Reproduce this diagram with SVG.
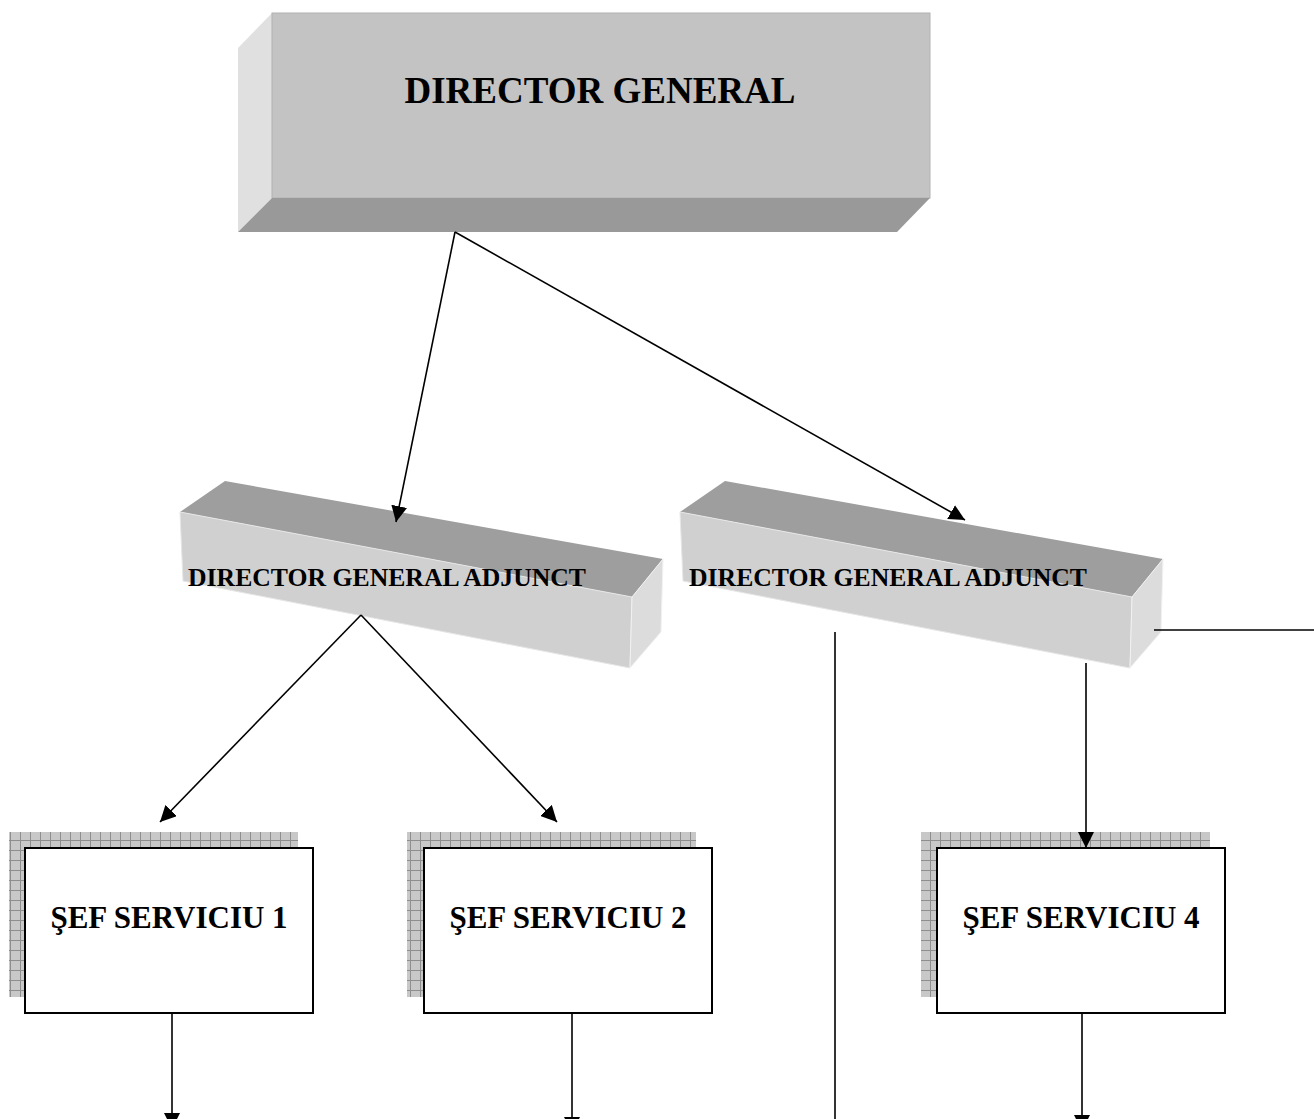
<svg xmlns="http://www.w3.org/2000/svg" width="1314" height="1119" viewBox="0 0 1314 1119">
<style>
.t{font-family:"Liberation Serif","Times New Roman",serif;font-weight:bold;fill:#000;text-anchor:middle}
.ts{font-family:"Liberation Serif","Times New Roman",serif;font-weight:bold;fill:#000;text-anchor:start}
.ln{stroke:#000;stroke-width:1.6;fill:none}
.box{fill:#fff;stroke:#000;stroke-width:2}
.sh{fill:url(#grid)}
.top{fill:#9e9e9e}
.front{fill:#d0d0d0}
.side{fill:#dcdcdc}
</style>
<defs>
<pattern id="grid" width="10" height="10" patternUnits="userSpaceOnUse">
<rect width="10" height="10" fill="#c8c8c8"/>
<path d="M0 0.5H10M0.5 0V10" stroke="#8e8e8e" stroke-width="1"/>
</pattern>
<marker id="ah" markerUnits="userSpaceOnUse" markerWidth="16" markerHeight="16" viewBox="0 0 16 16" refX="16" refY="8" orient="auto">
<path d="M0 0L16 8L0 16Z" fill="#000"/>
</marker>
</defs>

<g id="director-general">
<polygon points="238,48 272,13 272,198 238,232" fill="#e0e0e0"/>
<rect x="272" y="13" width="658" height="185" fill="#c3c3c3" stroke="#b2b2b2" stroke-width="1"/>
<polygon points="272,198 930,198 897,232 238,232" fill="#999999"/>
<text class="t" x="600" y="103" font-size="37">DIRECTOR GENERAL</text>
</g>

<g id="dga-1">
<polygon class="top" points="180,512 225,481 663,559 632,597"/>
<polygon class="front" points="180,512 632,597 630,668 183,581" stroke="#e6e6e6" stroke-width="1"/>
<polygon class="side" points="632,597 663,559 661,632 630,668" stroke="#f2f2f2" stroke-width="1"/>
<text class="ts" x="188" y="586" font-size="26" textLength="398" lengthAdjust="spacingAndGlyphs">DIRECTOR GENERAL ADJUNCT</text>
</g>

<g id="dga-2">
<polygon class="top" points="680,512 725,481 1163,559 1132,597"/>
<polygon class="front" points="680,512 1132,597 1130,668 683,581" stroke="#e6e6e6" stroke-width="1"/>
<polygon class="side" points="1132,597 1163,559 1161,632 1130,668" stroke="#f2f2f2" stroke-width="1"/>
<text class="ts" x="689" y="586" font-size="26" textLength="398" lengthAdjust="spacingAndGlyphs">DIRECTOR GENERAL ADJUNCT</text>
</g>

<g id="sef-serviciu-1">
<rect class="sh" x="9" y="832" width="289" height="165"/>
<rect class="box" x="25" y="848" width="288" height="165"/>
<text class="t" x="169" y="928" font-size="31">ŞEF SERVICIU 1</text>
</g>

<g id="sef-serviciu-2">
<rect class="sh" x="407" y="832" width="289" height="165"/>
<rect class="box" x="424" y="848" width="288" height="165"/>
<text class="t" x="568" y="928" font-size="31">ŞEF SERVICIU 2</text>
</g>

<g id="sef-serviciu-4">
<rect class="sh" x="921" y="832" width="289" height="165"/>
<rect class="box" x="937" y="848" width="288" height="165"/>
<text class="t" x="1081" y="928" font-size="31">ŞEF SERVICIU 4</text>
</g>

<g id="connectors">
<line class="ln" x1="455" y1="232" x2="396" y2="522" marker-end="url(#ah)"/>
<line class="ln" x1="455" y1="232" x2="965" y2="520" marker-end="url(#ah)"/>
<line class="ln" x1="361" y1="615" x2="160" y2="822" marker-end="url(#ah)"/>
<line class="ln" x1="361" y1="615" x2="557" y2="822" marker-end="url(#ah)"/>
<line class="ln" x1="1086" y1="663" x2="1086" y2="848" marker-end="url(#ah)"/>
<line class="ln" x1="1154" y1="630" x2="1314" y2="630"/>
<line class="ln" x1="835" y1="632" x2="835" y2="1119"/>
<line class="ln" x1="172" y1="1013" x2="172" y2="1129" marker-end="url(#ah)"/>
<line class="ln" x1="572" y1="1013" x2="572" y2="1133" marker-end="url(#ah)"/>
<line class="ln" x1="1082" y1="1013" x2="1082" y2="1131" marker-end="url(#ah)"/>
</g>
</svg>
